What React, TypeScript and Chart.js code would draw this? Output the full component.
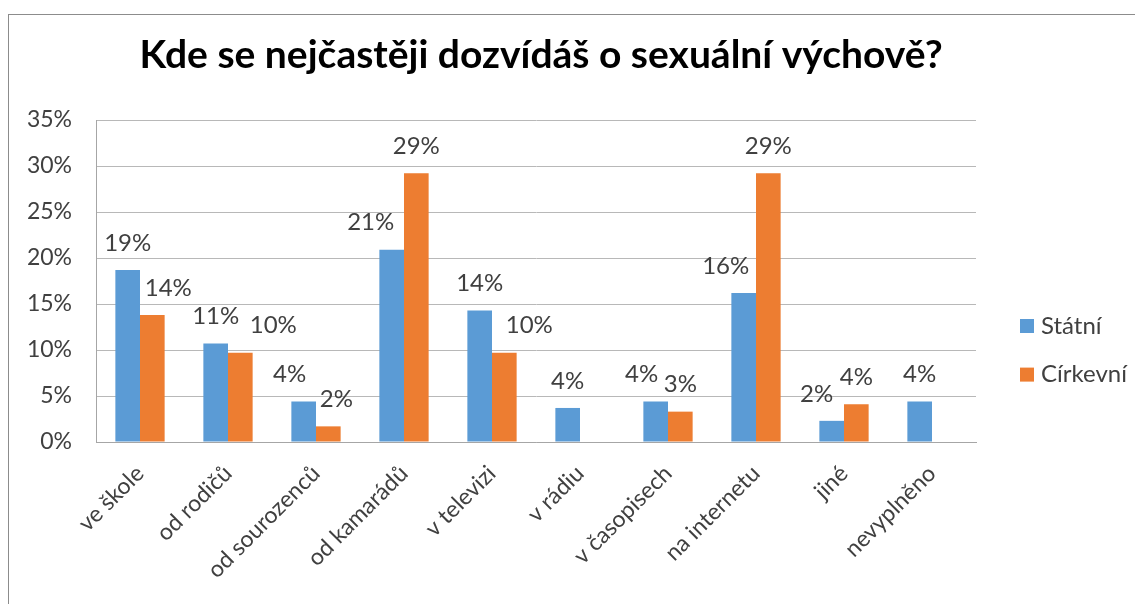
import React, { useEffect, useRef } from "react";
import { Chart, registerables } from "chart.js";

Chart.register(...registerables);

const TITLE = "Kde se nejčastěji dozvídáš o sexuální výchově?";
const categories = [
  "ve škole",
  "od rodičů",
  "od sourozenců",
  "od kamarádů",
  "v televizi",
  "v rádiu",
  "v časopisech",
  "na internetu",
  "jiné",
  "nevyplněno",
];
const seriesNames = ["Státní", "Církevní"];
const statni = [18.7, 10.7, 4.4, 20.9, 14.3, 3.7, 4.4, 16.2, 2.3, 4.4];
const cirkevni = [13.8, 9.7, 1.7, 29.2, 9.7, null, 3.3, 29.2, 4.1, null];
const yTicks = [0, 5, 10, 15, 20, 25, 30, 35];

// label horizontal nudges (style)
const statniLabelDx = [0, 0, -14, -21, 0, 0, -14, -18, -15, 0];
const cirkevniLabelDx = [16, 33, 8, 0, 25, 0, 0, 0, 0, 0];

const FONT = "Lato, 'Noto Sans', sans-serif";
const TEXT = "#404040";
const BLUE = "#5B9BD5";
const ORANGE = "#ED7D31";

const titlePlugin = {
  id: "customTitle",
  afterDraw(chart: any) {
    const ctx = chart.ctx;
    ctx.save();
    ctx.font = `bold 39px ${FONT}`;
    ctx.fillStyle = "#000";
    ctx.textAlign = "center";
    ctx.textBaseline = "alphabetic";
    ctx.fillText(TITLE, 532, 53);
    ctx.restore();
  },
};

const labelPlugin = {
  id: "valueLabels",
  afterDatasetsDraw(chart: any) {
    const ctx = chart.ctx;
    const nudges = [statniLabelDx, cirkevniLabelDx];
    ctx.save();
    ctx.font = `24px ${FONT}`;
    ctx.fillStyle = TEXT;
    ctx.textAlign = "center";
    ctx.textBaseline = "middle";
    chart.data.datasets.forEach((ds: any, di: number) => {
      const meta = chart.getDatasetMeta(di);
      meta.data.forEach((el: any, i: number) => {
        const v = ds.data[i];
        if (v === null || v === undefined) return;
        ctx.fillText(Math.round(v) + "%", el.x + nudges[di][i], el.y - 27);
      });
    });
    ctx.restore();
  },
};

const legendPlugin = {
  id: "customLegend",
  afterDraw(chart: any) {
    const ctx = chart.ctx;
    const area = chart.chartArea;
    const x = area.right + 44;
    ctx.save();
    ctx.font = `24px ${FONT}`;
    ctx.textAlign = "left";
    ctx.textBaseline = "middle";
    chart.data.datasets.forEach((ds: any, i: number) => {
      const y = area.top + 206 + i * 48.6;
      ctx.fillStyle = ds.backgroundColor;
      ctx.fillRect(x, y - 7, 14, 14);
      ctx.fillStyle = TEXT;
      ctx.fillText(ds.label, x + 21, y);
    });
    ctx.restore();
  },
};

export default function App() {
  const ref = useRef<HTMLCanvasElement>(null);
  useEffect(() => {
    if (!ref.current) return;
    const chart = new Chart(ref.current, {
      type: "bar",
      data: {
        labels: categories,
        datasets: [
          { label: seriesNames[0], data: statni, backgroundColor: BLUE },
          { label: seriesNames[1], data: cirkevni as any, backgroundColor: ORANGE },
        ],
      },
      options: {
        animation: false,
        responsive: false,
        devicePixelRatio: 1,
        layout: { padding: { top: 105, right: 167, left: 0, bottom: 0 } },
        plugins: {
          legend: { display: false },
          title: { display: false },
          tooltip: { enabled: false },
        },
        datasets: {
          bar: { categoryPercentage: 0.56, barPercentage: 1 },
        },
        scales: {
          x: {
            grid: { display: true, drawOnChartArea: false, drawTicks: false },
            border: { display: true, color: "#a6a6a6", width: 1 },
            ticks: {
              minRotation: 45,
              maxRotation: 45,
              autoSkip: false,
              padding: 18,
              color: TEXT,
              font: { family: FONT, size: 23 },
            },
            afterFit(scale: any) {
              scale.height = 162;
            },
          },
          y: {
            min: 0,
            max: 35,
            afterBuildTicks(scale: any) {
              scale.ticks = yTicks.map((v) => ({ value: v }));
            },
            grid: { color: "#b8b8b8", drawTicks: false },
            border: { display: true, color: "#a6a6a6", width: 1 },
            ticks: {
              padding: 24,
              color: TEXT,
              font: { family: FONT, size: 23 },
              callback: (v: any) => v + "%",
            },
            afterFit(scale: any) {
              scale.width = 87;
            },
          },
        },
      },
      plugins: [titlePlugin, labelPlugin, legendPlugin],
    });
    return () => chart.destroy();
  }, []);
  return (
    <div
      style={{
        marginTop: 6,
        width: 1135,
        height: 590,
        borderTop: "1px solid #8c8c8c",
        borderLeft: "1px solid #8c8c8c",
        boxSizing: "border-box",
        overflow: "hidden",
      }}
    >
      <canvas ref={ref} width={1134} height={589} style={{ display: "block" }} />
    </div>
  );
}
